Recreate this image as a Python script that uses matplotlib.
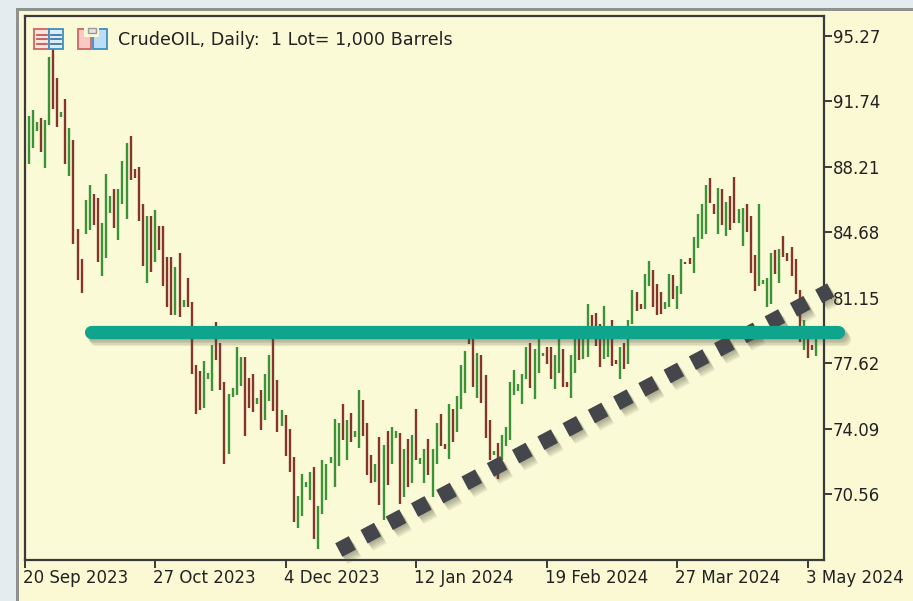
import numpy as np
import matplotlib
matplotlib.use("Agg")
from matplotlib import pyplot as plt
from matplotlib.patches import Rectangle
from matplotlib.transforms import ScaledTranslation
import matplotlib.patheffects as pe

highs = [90.95, 91.27, 90.64, 90.86, 90.73, 94.15, 94.62, 93.03, 91.18, 91.85,
         90.30, 89.65, 84.88, 83.22, 86.41, 87.22, 86.77, 86.55, 85.20, 87.85,
         86.64, 86.99, 86.99, 88.52, 89.51, 89.87, 88.08, 88.21, 86.19, 85.55,
         85.55, 85.87, 85.01, 85.01, 83.35, 83.35, 82.81, 83.57, 81.01, 82.23,
         80.92, 77.50, 77.19, 77.72, 77.09, 78.62, 79.84, 78.71, 76.60, 75.93,
         76.29, 78.49, 77.95, 77.95, 76.83, 77.05, 75.74, 76.19, 77.05, 78.04,
         78.94, 76.73, 75.07, 74.84, 74.08, 72.55, 70.44, 71.65, 71.20, 71.74,
         72.01, 69.89, 72.41, 72.19, 72.55, 74.62, 74.40, 75.39, 74.53, 74.94,
         73.95, 76.19, 75.61, 74.40, 72.64, 72.19, 73.63, 73.22, 73.95, 74.17,
         73.95, 73.85, 72.96, 73.50, 73.72, 75.16, 72.51, 72.96, 73.50, 72.96,
         74.40, 74.85, 73.27, 75.39, 75.16, 75.83, 77.50, 78.26, 78.94, 79.00,
         78.17, 78.04, 76.96, 74.53, 72.87, 73.31, 73.72, 74.17, 76.60, 77.27,
         76.51, 77.05, 78.49, 78.71, 78.36, 79.12, 78.17, 78.49, 78.49, 78.04,
         79.03, 78.36, 76.60, 78.04, 78.94, 79.48, 79.21, 80.79, 80.20, 80.34,
         79.75, 80.70, 79.39, 79.93, 77.81, 78.49, 78.71, 79.93, 81.59, 81.46,
         80.83, 82.45, 83.12, 82.67, 81.91, 81.46, 80.92, 82.45, 82.36, 81.78,
         83.22, 83.08, 83.31, 84.43, 85.65, 86.23, 87.22, 87.63, 86.23, 87.09,
         86.99, 86.32, 86.64, 87.67, 85.91, 86.01, 86.23, 85.56, 83.44, 86.23,
         82.13, 82.23, 83.57, 83.71, 83.80, 84.47, 83.58, 83.89, 83.26, 81.55,
         79.93, 79.03, 78.58, 79.00]
lows = [88.39, 89.25, 90.14, 89.02, 88.16, 90.46, 91.36, 90.37, 90.91, 88.39,
        87.72, 84.07, 82.09, 81.41, 84.61, 84.83, 85.06, 83.08, 82.31, 83.31,
        85.73, 84.93, 84.29, 86.18, 85.40, 87.49, 87.62, 85.29, 82.85, 81.96,
        82.54, 83.08, 83.71, 81.77, 80.65, 80.20, 80.20, 80.11, 80.65, 80.65,
        77.01, 74.89, 75.11, 75.21, 76.78, 76.11, 77.77, 76.19, 72.15, 72.69,
        75.79, 75.88, 76.37, 73.68, 75.21, 74.98, 75.43, 73.99, 74.57, 75.56,
        75.02, 73.90, 74.21, 72.59, 71.74, 69.04, 68.70, 69.35, 70.93, 70.25,
        68.14, 67.60, 69.49, 70.25, 72.24, 70.93, 72.05, 73.45, 72.37, 73.36,
        73.63, 73.04, 73.68, 71.56, 71.15, 71.20, 69.94, 69.17, 71.02, 72.15,
        73.59, 70.03, 70.39, 70.93, 71.15, 72.37, 72.15, 71.15, 71.56, 70.39,
        72.15, 73.14, 73.00, 72.46, 73.36, 73.90, 75.12, 76.01, 78.63, 76.33,
        75.75, 75.48, 73.59, 72.37, 72.64, 71.38, 72.37, 73.13, 73.45, 75.88,
        76.11, 75.43, 76.74, 76.29, 75.66, 77.10, 77.99, 77.55, 76.74, 76.20,
        77.10, 76.33, 76.33, 75.75, 77.10, 77.77, 77.86, 77.95, 79.03, 78.53,
        77.41, 77.86, 77.95, 77.45, 77.59, 76.78, 77.32, 77.55, 79.75, 80.42,
        80.52, 80.52, 81.77, 80.65, 80.20, 80.29, 80.52, 80.65, 81.06, 80.52,
        81.37, 82.95, 82.95, 82.50, 83.84, 84.34, 84.61, 86.28, 85.69, 84.61,
        85.06, 84.48, 84.83, 85.19, 85.19, 83.94, 84.70, 82.49, 81.51, 81.77,
        81.87, 80.65, 80.83, 82.41, 81.95, 83.35, 83.13, 82.31, 81.37, 78.76,
        78.31, 77.90, 78.31, 77.99]
directions = ("GGGRGGRRGR" "GRRRGGRRGG" "GRGGGRRRRG" "RGRRRRGRGR" "RRRGGGRRRG"
              "GGGRRRGRGG" "RRGRRRGGGG" "RGGGGGGRGR" "GGRRRGRGRG" "GRGRGRGGRG"
              "GRRGRGGGRR" "GRRRGRGGGG" "GGGRGGGRRG" "GRRGGRGGRR" "RGGRRGRGGR"
              "RGGRRRGGRG" "GRRGGGGRRG" "RGRRGGRRRG" "GGGRGRRRRR" "GRRG")

price_ticks = [95.27, 91.74, 88.21, 84.68, 81.15, 77.62, 74.09, 70.56]
date_ticks = [0, 32, 64, 96, 128, 160, 192]
date_labels = ["20 Sep 2023", "27 Oct 2023", "4 Dec 2023", "12 Jan 2024",
               "19 Feb 2024", "27 Mar 2024", "3 May 2024"]
title = "CrudeOIL, Daily:  1 Lot= 1,000 Barrels"

support_x = [16.2, 199.5]
support_y = [79.3, 79.3]
trend_x = [77.03, 197.6]
trend_y = [67.53, 81.56]

W, H = 913, 601
cream = "#FBF9D3"
dark = "#3A3A3A"
text_col = "#222222"
font = "DejaVu Sans"
colours = {"G": "#3C9337", "R": "#84362B"}

fig = plt.figure(figsize=(W / 100, H / 100), dpi=100, facecolor=cream)

# window frame, in pixels
bg = fig.add_axes([0, 0, 1, 1])
bg.set_xlim(0, W)
bg.set_ylim(H, 0)
bg.axis("off")
bg.add_patch(Rectangle((0, 0), W, 7.5, color="#E4ECF0", lw=0))
bg.add_patch(Rectangle((0, 0), 15.5, H, color="#E4ECF0", lw=0))
bg.add_patch(Rectangle((15.5, 7.5), W, 3, color="#8F918E", lw=0))
bg.add_patch(Rectangle((15.5, 7.5), 3.5, H, color="#8F918E", lw=0))

left, right, top, bottom = 24.5, 823.5, 15.5, 559.5
ax = fig.add_axes([left / W, 1 - bottom / H, (right - left) / W, (bottom - top) / H])
ax.set_facecolor("#FBFAD6")
ax.set_xlim(0, (right - left) / 4.08)
ax.set_ylim(67.02, 96.38)

xs = np.arange(1, len(highs) + 1)
for x, hi, lo, d in zip(xs, highs, lows, directions):
    ax.plot([x, x], [lo, hi], color=colours[d], lw=1.7, solid_capstyle="butt", zorder=2)

# soft shadow: a few faint copies stepping down and to the right
shadow = [pe.SimpleLineShadow(offset=(o, -o * 1.3), shadow_color="#4A4A3A", alpha=0.1)
          for o in (0.8, 1.6, 2.4, 3.2, 4.0)]

ax.plot(trend_x, trend_y, color="#45454C", lw=11, clip_on=False, zorder=3,
        dashes=(1, 0.87), dash_capstyle="butt",
        path_effects=shadow + [pe.Normal()])
ax.plot(support_x, support_y, color="#0FA58C", lw=9.5, clip_on=False, zorder=4,
        solid_capstyle="round", path_effects=shadow + [pe.Normal()])

ax.set_xticks(date_ticks)
ax.set_xticklabels(date_labels, ha="left", fontsize=12, family=font, color=text_col)
ax.set_yticks(price_ticks)
ax.set_yticklabels([f"{p:.2f}" for p in price_ticks], fontsize=12, family=font, color=text_col)
ax.yaxis.tick_right()
ax.tick_params(axis="x", length=6, width=1.4, color=dark, pad=1)
ax.tick_params(axis="y", length=5.5, width=1.4, color=dark, pad=1)
for s in ax.spines.values():
    s.set_color(dark)
    s.set_linewidth(1.6)
nudge = ScaledTranslation(-2 / 100, 0, fig.dpi_scale_trans)
for lab in ax.get_xticklabels():
    lab.set_transform(lab.get_transform() + nudge)

# indicator icons and title, in pixels
fg = fig.add_axes([0, 0, 1, 1])
fg.set_xlim(0, W)
fg.set_ylim(H, 0)
fg.axis("off")
fg.patch.set_alpha(0)
red, blue = "#D2655F", "#3F8FC0"
fg.add_patch(Rectangle((34, 29), 15, 20, fc="#FBE3DE", ec=red, lw=1.3))
fg.add_patch(Rectangle((49, 29), 14, 20, fc="#DCEBF5", ec=blue, lw=1.3))
for yy in (34.5, 39, 43.5):
    fg.plot([37, 47], [yy, yy], color="#B5504B", lw=1.2)
    fg.plot([51, 61], [yy, yy], color="#2F6F9E", lw=1.2)
fg.add_patch(Rectangle((77.5, 28.5), 13, 20, fc="#F9C9C3", ec=red, lw=1.3))
fg.add_patch(Rectangle((93, 28.5), 13.5, 20, fc="#BBDDF7", ec=blue, lw=1.3))
fg.add_patch(Rectangle((84, 27), 15, 10, fc="#FBFAD6", ec="none"))
fg.add_patch(Rectangle((88, 28), 8, 4.5, fc="#E3E3E3", ec="#999999", lw=1))
fg.text(118, 40, title, fontsize=12.6, family=font, color=text_col, va="center", ha="left")

fig.savefig("out.png", dpi=100, facecolor=cream)
plt.close()
